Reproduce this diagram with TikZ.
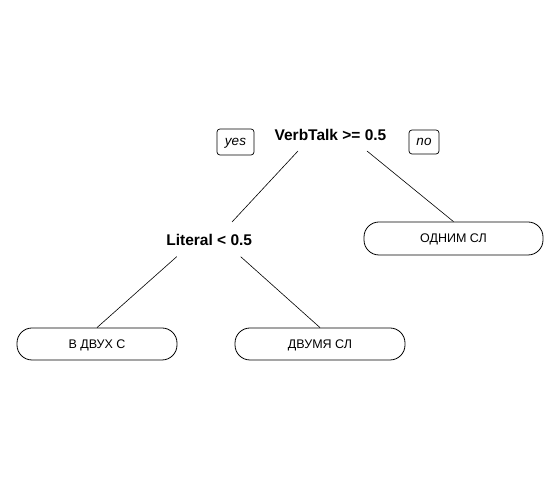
\documentclass[tikz,border=0pt]{standalone}
\usepackage{fontspec}
\setmainfont{Liberation Sans}
\usetikzlibrary{calc}
\begin{document}
\begin{tikzpicture}[x=1pt,y=1pt,
  splitlabel/.style={font=\fontsize{15.5}{18}\selectfont\bfseries, inner sep=0pt, anchor=base},
  leafbox/.style={draw, line width=0.8pt, rounded corners=15pt, minimum height=32pt, inner sep=0pt,
    text height=9pt, text depth=0pt, font=\fontsize{12.5}{15}\selectfont},
  tagbox/.style={draw, line width=0.7pt, rounded corners=3pt, inner sep=0pt,
    text height=7pt, text depth=0pt, font=\fontsize{13.5}{16}\selectfont\itshape},
  edge/.style={line width=0.6pt}]
\useasboundingbox (0,0) rectangle (560,484);
% split nodes
\node[splitlabel] (root) at (330.5,343.3) {VerbTalk >= 0.5};
\node[splitlabel] (lit) at (209.2,238.3) {Literal < 0.5};
% tags
\node[tagbox, minimum width=37pt, minimum height=26pt] (yes) at (235.5,342) {yes};
\node[tagbox, minimum width=30pt, minimum height=24pt] (no) at (424,342) {no};
% leaves
\node[leafbox, minimum width=179pt, minimum height=33pt] (odn) at (453.5,245.5) {ОДНИМ СЛ};
\node[leafbox, minimum width=160pt] (dvuh) at (97,140) {В ДВУХ С};
\node[leafbox, minimum width=170pt] (dvum) at (320,140) {ДВУМЯ СЛ};
% connectors
\coordinate (litTop) at ($(lit.base)+(22.8,23.7)$);
\draw[edge] ($(root.base)+(-32.5,-10.3)$) -- (litTop);
\draw[edge] ($(root.base)+(36.5,-10.3)$) -- (odn.north);
\draw[edge] ($(lit.base)+(-32.5,-11)$) -- (dvuh.north);
\draw[edge] ($(lit.base)+(31.5,-11)$) -- (dvum.north);
\end{tikzpicture}
\end{document}
